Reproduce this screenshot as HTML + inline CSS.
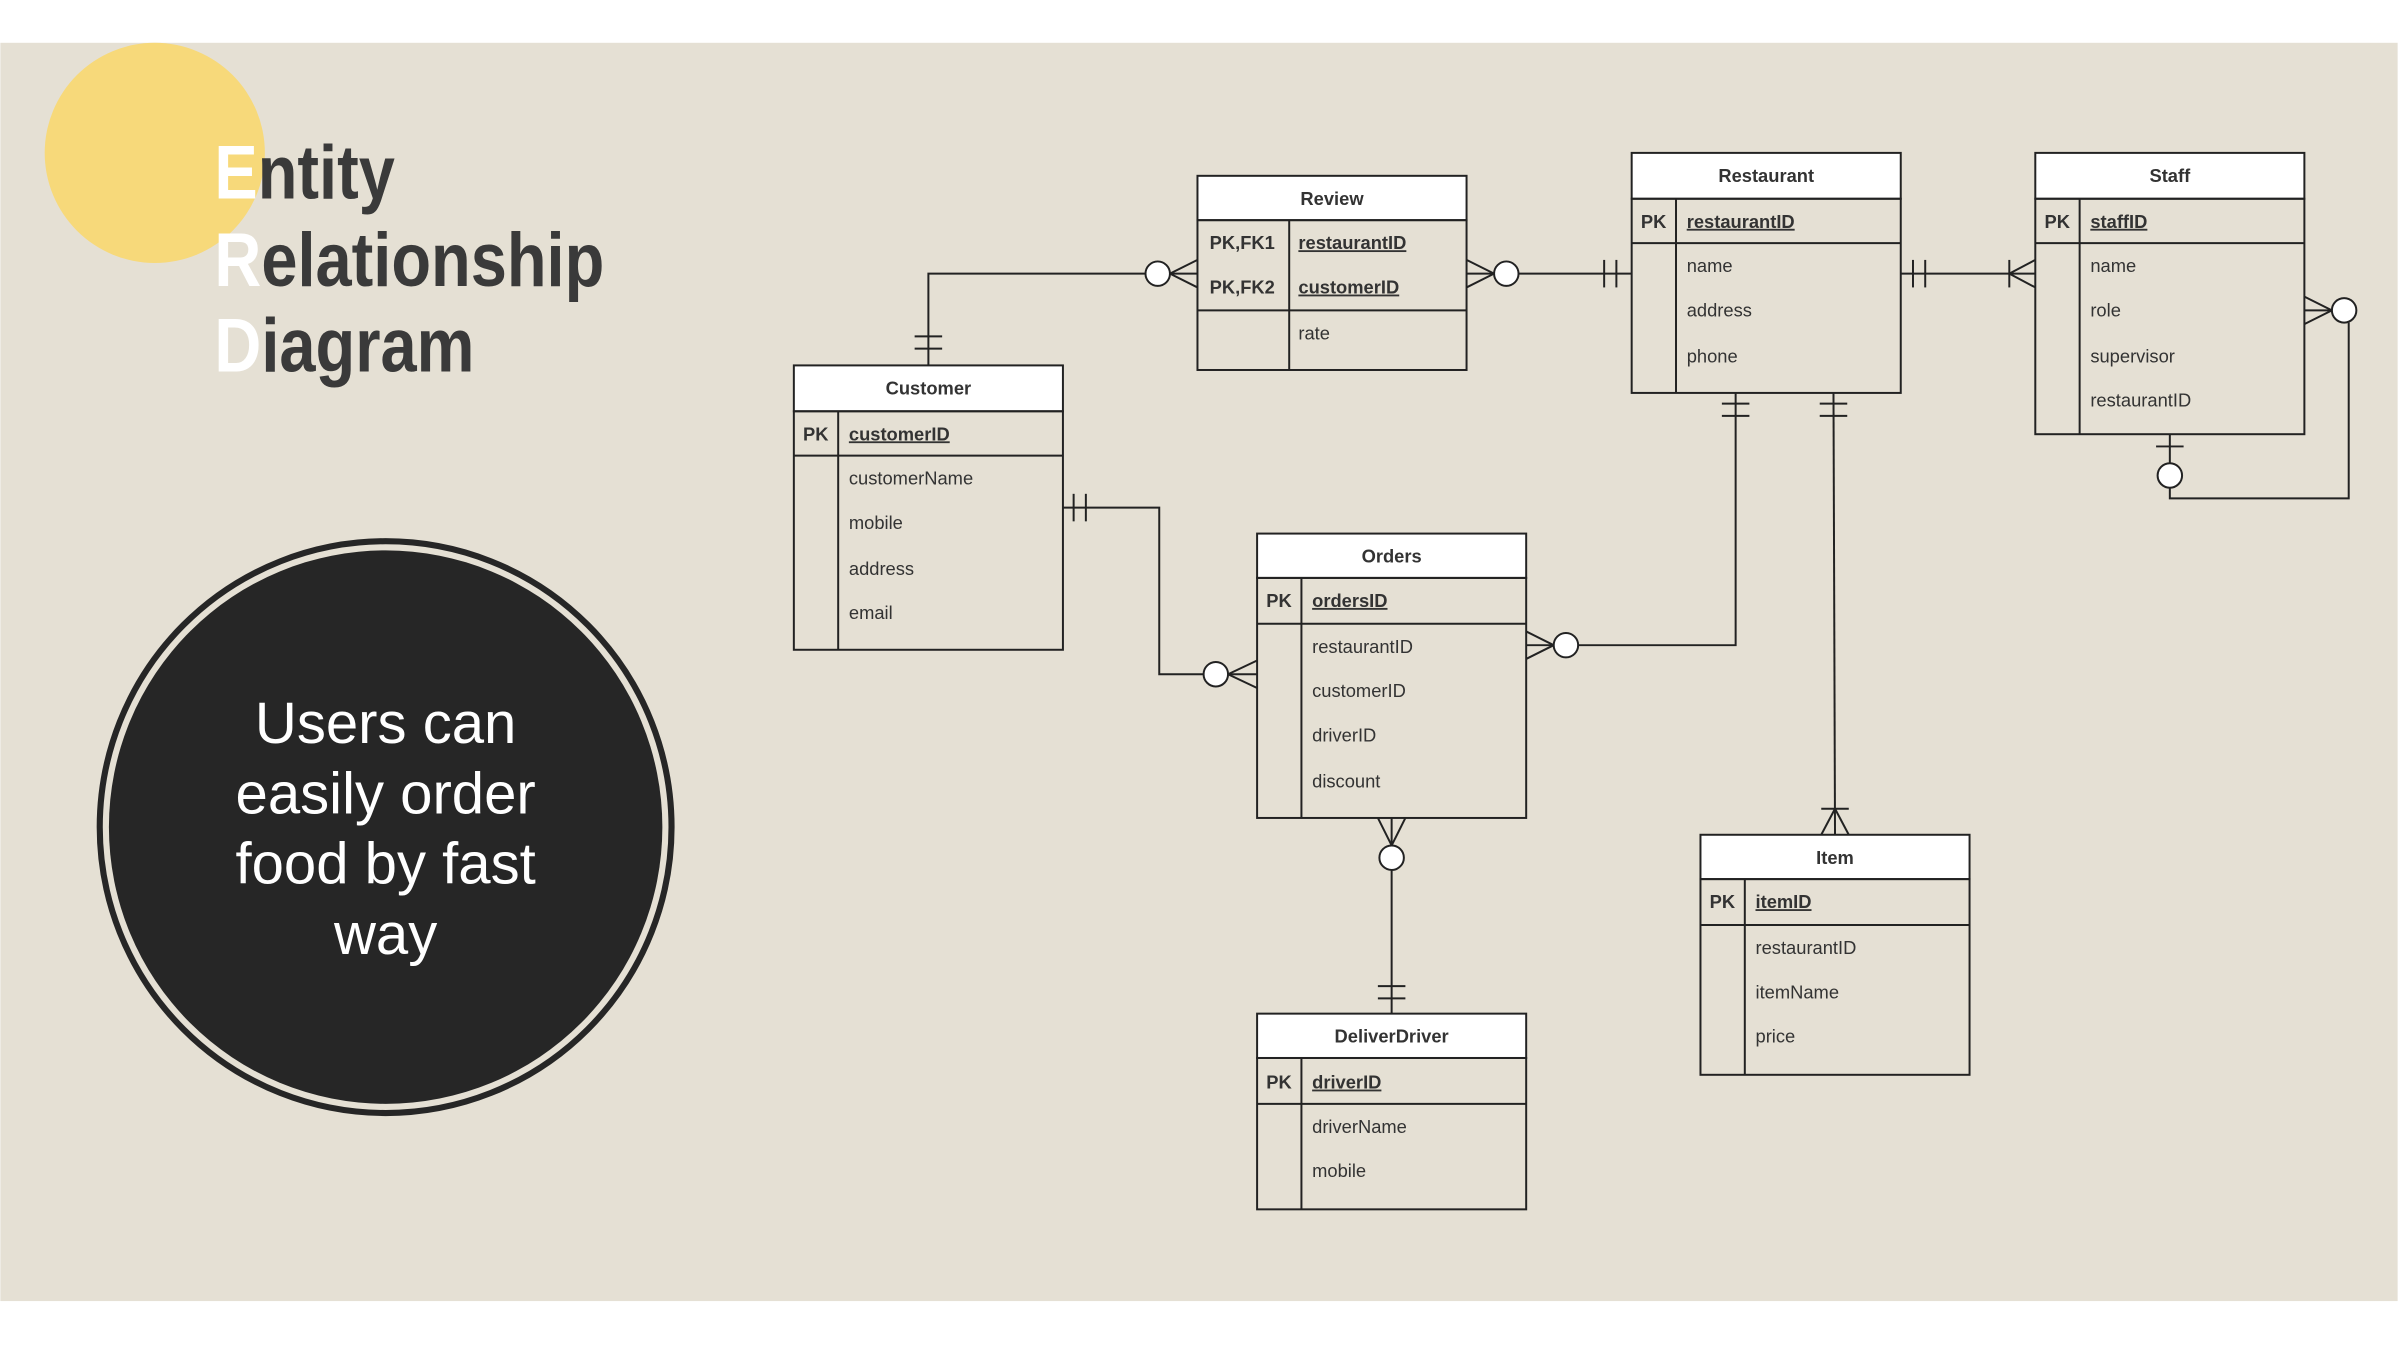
<!DOCTYPE html>
<html><head><meta charset="utf-8"><style>
html,body{margin:0;padding:0;width:2398px;height:1350px;overflow:hidden;background:#fff}
svg{display:block}
.t{font-family:"Liberation Sans Narrow","Liberation Sans",sans-serif;font-size:12px;fill:#333}
.h{font-weight:bold;text-anchor:middle}
.k{font-weight:bold}
.u{text-decoration:underline}
</style></head><body>
<svg width="2398" height="1350" viewBox="0 0 1568 883" xmlns="http://www.w3.org/2000/svg">
<rect x="0" y="28" width="1568" height="823" fill="#E5E0D4"/>
<circle cx="101" cy="100" r="72" fill="#F7D97A"/>
<g transform="translate(140,0) scale(0.85,1) translate(-140,0)" font-family="'Liberation Sans Narrow','Liberation Sans',sans-serif" font-weight="bold" font-size="50" fill="#3a3a3a">
<text x="140" y="130"><tspan fill="#fff">E</tspan>ntity</text>
<text x="140" y="187"><tspan fill="#fff">R</tspan>elationship</text>
<text x="140" y="243"><tspan fill="#fff">D</tspan>iagram</text>
</g>
<circle cx="252" cy="541" r="187" fill="none" stroke="#262626" stroke-width="4"/>
<circle cx="252" cy="541" r="181" fill="#262626"/>
<g font-family="'Liberation Sans',sans-serif" font-size="38" fill="#fff" text-anchor="middle">
<text x="252" y="486">Users can</text>
<text x="252" y="532">easily order</text>
<text x="252" y="578">food by fast</text>
<text x="252" y="624">way</text>
</g>

<g stroke="#222" stroke-width="1.3" fill="none">
<rect x="783" y="115" width="176" height="29" fill="#fff"/>
<rect x="783" y="144" width="176" height="98"/>
<line x1="783" y1="203" x2="959" y2="203"/><line x1="843" y1="144" x2="843" y2="242"/>
<rect x="1067" y="100" width="176" height="30" fill="#fff"/>
<rect x="1067" y="130" width="176" height="127"/>
<line x1="1067" y1="159" x2="1243" y2="159"/><line x1="1096" y1="130" x2="1096" y2="257"/>
<rect x="1331" y="100" width="176" height="30" fill="#fff"/>
<rect x="1331" y="130" width="176" height="154"/>
<line x1="1331" y1="159" x2="1507" y2="159"/><line x1="1360" y1="130" x2="1360" y2="284"/>
<rect x="519" y="239" width="176" height="30" fill="#fff"/>
<rect x="519" y="269" width="176" height="156"/>
<line x1="519" y1="298" x2="695" y2="298"/><line x1="548" y1="269" x2="548" y2="425"/>
<rect x="822" y="349" width="176" height="29" fill="#fff"/>
<rect x="822" y="378" width="176" height="157"/>
<line x1="822" y1="408" x2="998" y2="408"/><line x1="851" y1="378" x2="851" y2="535"/>
<rect x="822" y="663" width="176" height="29" fill="#fff"/>
<rect x="822" y="692" width="176" height="99"/>
<line x1="822" y1="722" x2="998" y2="722"/><line x1="851" y1="692" x2="851" y2="791"/>
<rect x="1112" y="546" width="176" height="29" fill="#fff"/>
<rect x="1112" y="575" width="176" height="128"/>
<line x1="1112" y1="605" x2="1288" y2="605"/><line x1="1141" y1="575" x2="1141" y2="703"/>

<polyline points="607,239 607,179 749,179"/>
<line x1="598" y1="220" x2="616" y2="220"/><line x1="598" y1="228" x2="616" y2="228"/>
<line x1="765" y1="179" x2="783" y2="179"/><line x1="765" y1="179" x2="783" y2="170"/><line x1="765" y1="179" x2="783" y2="188"/>
<circle cx="757" cy="179" r="8" fill="#fff"/>

<line x1="959" y1="179" x2="977" y2="179"/><line x1="977" y1="179" x2="959" y2="170"/><line x1="977" y1="179" x2="959" y2="188"/>
<line x1="993" y1="179" x2="1067" y2="179"/>
<line x1="1049" y1="170" x2="1049" y2="188"/><line x1="1057" y1="170" x2="1057" y2="188"/>
<circle cx="985" cy="179" r="8" fill="#fff"/>

<line x1="1243" y1="179" x2="1331" y2="179"/>
<line x1="1251" y1="170" x2="1251" y2="188"/><line x1="1259" y1="170" x2="1259" y2="188"/>
<line x1="1314" y1="170" x2="1314" y2="188"/><line x1="1314" y1="179" x2="1331" y2="170"/><line x1="1314" y1="179" x2="1331" y2="188"/>

<line x1="1507" y1="203" x2="1525" y2="203"/><line x1="1525" y1="203" x2="1507" y2="194"/><line x1="1525" y1="203" x2="1507" y2="212"/>
<polyline points="1536,211 1536,326 1419,326 1419,319"/>
<circle cx="1533" cy="203" r="8" fill="#fff"/>
<line x1="1419" y1="284" x2="1419" y2="303"/><line x1="1410" y1="292" x2="1428" y2="292"/>
<circle cx="1419" cy="311" r="8" fill="#fff"/>

<polyline points="1135,257 1135,422 1032,422"/>
<line x1="1126" y1="264" x2="1144" y2="264"/><line x1="1126" y1="272" x2="1144" y2="272"/>
<line x1="998" y1="422" x2="1016" y2="422"/><line x1="1016" y1="422" x2="998" y2="413"/><line x1="1016" y1="422" x2="998" y2="431"/>
<circle cx="1024" cy="422" r="8" fill="#fff"/>

<line x1="1199" y1="257" x2="1200" y2="546"/>
<line x1="1190" y1="264" x2="1208" y2="264"/><line x1="1190" y1="272" x2="1208" y2="272"/>
<line x1="1191" y1="529" x2="1209" y2="529"/><line x1="1200" y1="529" x2="1191" y2="546"/><line x1="1200" y1="529" x2="1209" y2="546"/>

<polyline points="695,332 758,332 758,441 787,441"/>
<line x1="702" y1="323" x2="702" y2="341"/><line x1="710" y1="323" x2="710" y2="341"/>
<line x1="803" y1="441" x2="822" y2="441"/><line x1="803" y1="441" x2="822" y2="432"/><line x1="803" y1="441" x2="822" y2="450"/>
<circle cx="795" cy="441" r="8" fill="#fff"/>

<line x1="910" y1="535" x2="910" y2="553"/><line x1="910" y1="553" x2="901" y2="535"/><line x1="910" y1="553" x2="919" y2="535"/>
<line x1="910" y1="569" x2="910" y2="663"/>
<line x1="901" y1="645" x2="919" y2="645"/><line x1="901" y1="653" x2="919" y2="653"/>
<circle cx="910" cy="561" r="8" fill="#fff"/>
</g>

<g class="t">
<text class="t h" x="871" y="134">Review</text>
<text class="t k" x="791" y="163">PK,FK1</text><text class="t k u" x="849" y="163">restaurantID</text>
<text class="t k" x="791" y="192">PK,FK2</text><text class="t k u" x="849" y="192">customerID</text>
<text class="t" x="849" y="222">rate</text>

<text class="t h" x="1155" y="119">Restaurant</text>
<text class="t k" x="1073" y="149">PK</text><text class="t k u" x="1103" y="149">restaurantID</text>
<text class="t" x="1103" y="178">name</text><text class="t" x="1103" y="207">address</text><text class="t" x="1103" y="237">phone</text>

<text class="t h" x="1419" y="119">Staff</text>
<text class="t k" x="1337" y="149">PK</text><text class="t k u" x="1367" y="149">staffID</text>
<text class="t" x="1367" y="178">name</text><text class="t" x="1367" y="207">role</text><text class="t" x="1367" y="237">supervisor</text><text class="t" x="1367" y="266">restaurantID</text>

<text class="t h" x="607" y="258">Customer</text>
<text class="t k" x="525" y="288">PK</text><text class="t k u" x="555" y="288">customerID</text>
<text class="t" x="555" y="317">customerName</text><text class="t" x="555" y="346">mobile</text><text class="t" x="555" y="376">address</text><text class="t" x="555" y="405">email</text>

<text class="t h" x="910" y="368">Orders</text>
<text class="t k" x="828" y="397">PK</text><text class="t k u" x="858" y="397">ordersID</text>
<text class="t" x="858" y="427">restaurantID</text><text class="t" x="858" y="456">customerID</text><text class="t" x="858" y="485">driverID</text><text class="t" x="858" y="515">discount</text>

<text class="t h" x="910" y="682">DeliverDriver</text>
<text class="t k" x="828" y="712">PK</text><text class="t k u" x="858" y="712">driverID</text>
<text class="t" x="858" y="741">driverName</text><text class="t" x="858" y="770">mobile</text>

<text class="t h" x="1200" y="565">Item</text>
<text class="t k" x="1118" y="594">PK</text><text class="t k u" x="1148" y="594">itemID</text>
<text class="t" x="1148" y="624">restaurantID</text><text class="t" x="1148" y="653">itemName</text><text class="t" x="1148" y="682">price</text>
</g>
</svg>
</body></html>
